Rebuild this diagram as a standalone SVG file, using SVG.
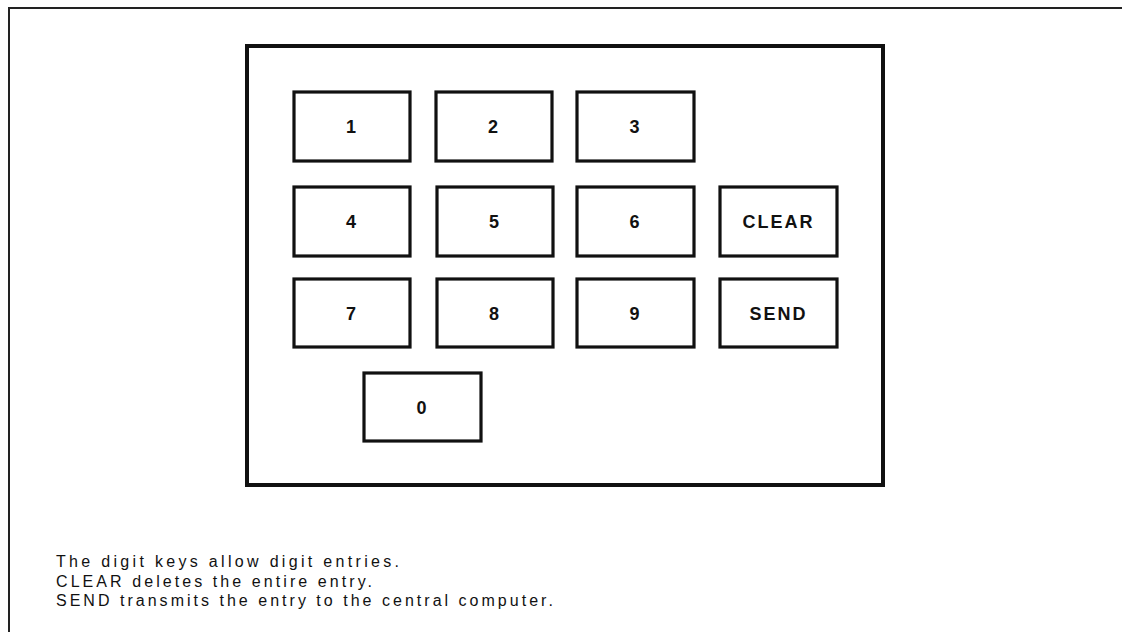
<svg xmlns="http://www.w3.org/2000/svg" width="1126" height="632" viewBox="0 0 1126 632">
<style>
.key rect{fill:#fff;stroke:#111;stroke-width:3.2}
.key text{font-family:"Liberation Sans",Arial,sans-serif;font-weight:bold;font-size:18px;fill:#111;text-anchor:middle;letter-spacing:2px}
.note{font-family:"Liberation Sans",Arial,sans-serif;font-size:16px;fill:#111}
</style>
<rect width="1126" height="632" fill="#fff"/>
<g id="frame" fill="none" stroke="#222" stroke-width="2">
<line x1="8" y1="8" x2="1122" y2="8"/>
<line x1="9" y1="7" x2="9" y2="632"/>
</g>
<g id="panel"><rect x="247" y="46" width="636" height="439" fill="#fff" stroke="#111" stroke-width="4"/></g>
<g id="key1" class="key"><rect x="294" y="92" width="116" height="69"/><text x="352" y="133">1</text></g>
<g id="key2" class="key"><rect x="436" y="92" width="116" height="69"/><text x="494" y="133">2</text></g>
<g id="key3" class="key"><rect x="577" y="92" width="117" height="69"/><text x="635.5" y="133">3</text></g>
<g id="key4" class="key"><rect x="294" y="187" width="116" height="69"/><text x="352" y="228">4</text></g>
<g id="key5" class="key"><rect x="437" y="187" width="116" height="69"/><text x="495" y="228">5</text></g>
<g id="key6" class="key"><rect x="577" y="187" width="117" height="69"/><text x="635.5" y="228">6</text></g>
<g id="keyClear" class="key"><rect x="720" y="187" width="117" height="69"/><text x="778.5" y="228">CLEAR</text></g>
<g id="key7" class="key"><rect x="294" y="279" width="116" height="68"/><text x="352" y="320">7</text></g>
<g id="key8" class="key"><rect x="437" y="279" width="116" height="68"/><text x="495" y="320">8</text></g>
<g id="key9" class="key"><rect x="577" y="279" width="117" height="68"/><text x="635.5" y="320">9</text></g>
<g id="keySend" class="key"><rect x="720" y="279" width="117" height="68"/><text x="778.5" y="320">SEND</text></g>
<g id="key0" class="key"><rect x="364" y="373" width="117" height="68"/><text x="422.5" y="414">0</text></g>
<g id="connectors"></g>
<g id="caption">
<text class="note" x="56" y="567" textLength="343" lengthAdjust="spacing">The digit keys allow digit entries.</text>
<text class="note" x="56" y="587" textLength="316" lengthAdjust="spacing">CLEAR deletes the entire entry.</text>
<text class="note" x="56" y="606" textLength="497" lengthAdjust="spacing">SEND transmits the entry to the central computer.</text>
</g>
</svg>
